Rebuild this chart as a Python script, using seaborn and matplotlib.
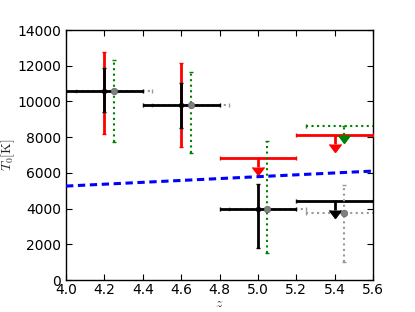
import matplotlib
matplotlib.use("Agg")
import matplotlib.pyplot as plt
import seaborn as sns

# ── Data ─────────────────────────────────────────────────────────────────────
# measurements (black) with statistical errors
z_meas = [4.2, 4.6, 5.0]
T_meas = [10600, 9800, 3950]
T_stat_lo = [1200, 1270, 2180]
T_stat_hi = [1260, 1210, 1430]

# total (red) errors for the first two bins
z_tot = [4.2, 4.6]
T_tot = [10600, 9800]
T_tot_lo = [2420, 2330]
T_tot_hi = [2180, 2330]

# alternative estimate (green / grey), shifted by +0.05 in z
z_alt = [4.25, 4.65, 5.05]
T_alt = [10600, 9800, 3950]
T_alt_lo = [2850, 2710, 2460]
T_alt_hi = [1720, 1830, 3850]

z_alt_last = [5.45]
T_alt_last = [3730]
T_alt_last_lo = [2700]
T_alt_last_hi = [1590]

# upper limits
z_ul_red = [5.0, 5.4]
T_ul_red = [6850, 8140]
z_ul_black = [5.4]
T_ul_black = [4410]
z_ul_green = [5.45]
T_ul_green = [8640]

z_bin = 0.2          # half bin width
ul_arrow = 500       # length of the limit arrow shafts

# model curve (blue dashed)
z_model = [4.0, 4.4, 4.8, 5.2, 5.6]
T_model = [5260, 5470, 5680, 5890, 6100]

# ── Style ────────────────────────────────────────────────────────────────────
sns.set_style("ticks")
plt.rcParams.update({
    "font.family": ["DejaVu Sans"],
    "font.size": 10,
    "mathtext.fontset": "cm",
    "xtick.direction": "in",
    "ytick.direction": "in",
    "xtick.top": True,
    "ytick.right": True,
    "xtick.major.size": 4,
    "ytick.major.size": 4,
    "xtick.major.pad": 2.5,
    "axes.linewidth": 1.0,
    "axes.edgecolor": "black",
    "xtick.color": "black",
    "ytick.color": "black",
})

fig = plt.figure(figsize=(4.15, 3.12), dpi=100)
ax = fig.add_axes([66 / 415, 32 / 312, 307 / 415, 250 / 312])


def dotted(eb):
    for bars in eb.lines[2]:
        bars.set_linestyle(":")


def arrows(eb, color):
    # make the limit carets solid filled triangles
    for cap in eb.lines[1]:
        if cap.get_marker() not in ("|", "_"):
            cap.set_markersize(8)
            cap.set_markerfacecolor(color)
            cap.set_markeredgecolor(color)


# grey horizontal (dotted) bins of the alternative estimate
eb = ax.errorbar(z_alt + z_alt_last, T_alt + T_alt_last, xerr=z_bin, fmt="none",
                 ecolor="0.6", elinewidth=1.5, capsize=1.5, zorder=2)
dotted(eb)

# red total errors
ax.errorbar(z_tot, T_tot, yerr=[T_tot_lo, T_tot_hi], fmt="none",
            ecolor="red", elinewidth=2, capsize=1.5, zorder=3)

# black measurements
ax.errorbar(z_meas, T_meas, xerr=z_bin, yerr=[T_stat_lo, T_stat_hi],
            fmt="o", color="black", ms=3, elinewidth=2, capsize=1.5, zorder=4)

# green dotted vertical errors
eb = ax.errorbar(z_alt, T_alt, yerr=[T_alt_lo, T_alt_hi], fmt="none",
                 ecolor="green", elinewidth=1.5, capsize=1.5, zorder=5)
dotted(eb)

# grey dotted errors in the last bin
eb = ax.errorbar(z_alt_last, T_alt_last, yerr=[T_alt_last_lo, T_alt_last_hi],
                 fmt="none", ecolor="0.6", elinewidth=1.5, capsize=1.5, zorder=5)
dotted(eb)
sns.scatterplot(x=z_alt + z_alt_last, y=T_alt + T_alt_last, color="0.5",
                s=22, edgecolor="0.4", linewidth=0.5, zorder=6, ax=ax)

# upper limits
eb = ax.errorbar(z_ul_red, T_ul_red, xerr=z_bin, yerr=ul_arrow, uplims=True,
                 fmt="none", ecolor="red", elinewidth=2, capsize=1.5, zorder=4)
arrows(eb, "red")
eb = ax.errorbar(z_ul_black, T_ul_black, xerr=z_bin, yerr=ul_arrow, uplims=True,
                 fmt="none", ecolor="black", elinewidth=2, capsize=1.5, zorder=4)
arrows(eb, "black")
eb = ax.errorbar(z_ul_green, T_ul_green, xerr=z_bin, yerr=ul_arrow, uplims=True,
                 fmt="none", ecolor="green", elinewidth=1.5, capsize=1.5, zorder=5)
dotted(eb)
arrows(eb, "green")

# model
sns.lineplot(x=z_model, y=T_model, color="blue", lw=2.2, ax=ax, zorder=7)
ax.lines[-1].set_dashes((2.4, 1.5))

ax.set_xlim(4.0, 5.6)
ax.set_ylim(0, 14000)
ax.set_xticks([4.0, 4.2, 4.4, 4.6, 4.8, 5.0, 5.2, 5.4, 5.6])
ax.set_yticks(range(0, 14001, 2000))
ax.set_xlabel("$z$")
ax.set_ylabel(r"$T_0[\mathrm{K}]$")
ax.xaxis.set_label_coords(0.5, -0.064)
ax.yaxis.set_label_coords(-0.158, 0.5)

fig.savefig("out.png", dpi=100)
